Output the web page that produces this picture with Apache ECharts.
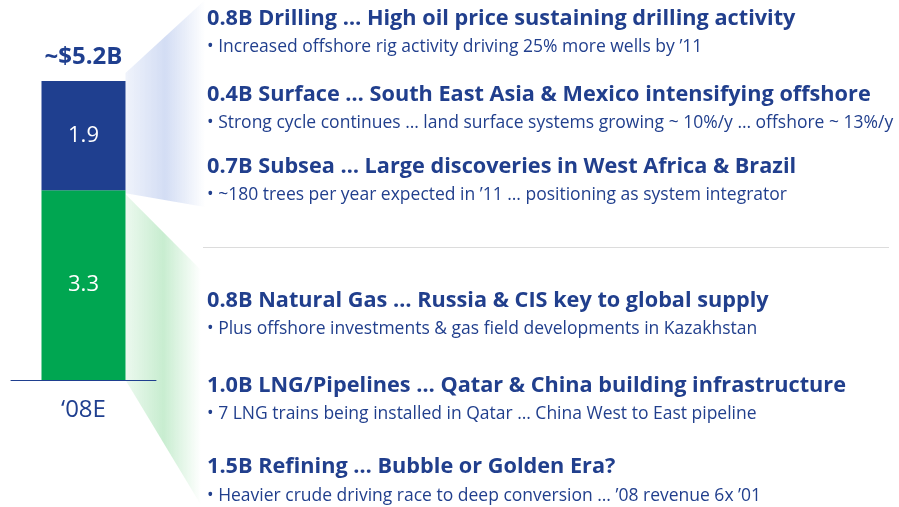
<!DOCTYPE html>
<html>
<head>
<meta charset="utf-8">
<script src="https://cdn.jsdelivr.net/npm/echarts@6/dist/echarts.min.js"></script>
<style>
  html, body { margin: 0; padding: 0; background: #fff; }
  #chart { width: 899px; height: 507px; }
</style>
</head>
<body>
<div id="chart"></div>
<script>
// data
const categories = ['\u201808E']
const downstreamValues = [3.3]
const upstreamValues = [1.9]
const totalLabels = ['~$5.2B']

const upstreamHeads = [
  '0.8B Drilling \u2026 High oil price sustaining drilling activity',
  '0.4B Surface \u2026 South East Asia & Mexico intensifying offshore',
  '0.7B Subsea \u2026 Large discoveries in West Africa & Brazil'
]
const upstreamNotes = [
  '\u2022 Increased offshore rig activity driving 25% more wells by \u201911',
  '\u2022 Strong cycle continues \u2026 land surface systems growing ~ 10%/y \u2026 offshore ~ 13%/y',
  '\u2022 ~180 trees per year expected in \u201911 \u2026 positioning as system integrator'
]
const downstreamHeads = [
  '0.8B Natural Gas \u2026 Russia & CIS key to global supply',
  '1.0B LNG/Pipelines \u2026 Qatar & China building infrastructure',
  '1.5B Refining \u2026 Bubble or Golden Era?'
]
const downstreamNotes = [
  '\u2022 Plus offshore investments & gas field developments in Kazakhstan',
  '\u2022 7 LNG trains being installed in Qatar \u2026 China West to East pipeline',
  '\u2022 Heavier crude driving race to deep conversion \u2026 \u201908 revenue 6x \u201901'
]

const blue = '#1f3f8f'
const green = '#00a651'
const textBlue = '#213f8d'
const font = 'Open Sans'

const chart = echarts.init(document.getElementById('chart'))

const total = downstreamValues[0] + upstreamValues[0]

chart.setOption({
  animation: false,
  grid: { left: 11, width: 145, top: 81, bottom: 127 },
  xAxis: {
    type: 'category',
    data: categories,
    axisLine: { lineStyle: { color: blue, width: 1 } },
    axisTick: { show: false },
    axisLabel: { color: blue, fontSize: 24, margin: 18, fontFamily: font }
  },
  yAxis: { type: 'value', min: 0, max: total, show: false },
  series: [
    {
      type: 'bar', stack: 'a', barWidth: 84, data: downstreamValues,
      itemStyle: { color: green },
      label: { show: true, position: 'inside', color: '#fff', fontSize: 22, fontFamily: font }
    },
    {
      type: 'bar', stack: 'a', barWidth: 84, data: upstreamValues,
      itemStyle: { color: blue },
      label: { show: true, position: 'inside', color: '#fff', fontSize: 22, fontFamily: font }
    }
  ]
})

// wedges hooking the bar segments to the text blocks
const pTop = chart.convertToPixel({ seriesIndex: 1 }, [0, total])
const pMid = chart.convertToPixel({ seriesIndex: 0 }, [0, downstreamValues[0]])
const pBot = chart.convertToPixel({ seriesIndex: 0 }, [0, 0])
const right = pTop[0] + 42

function fade(r, g, b) {
  return {
    type: 'linear', x: 0, y: 0, x2: 1, y2: 0,
    colorStops: [
      { offset: 0, color: `rgba(${r},${g},${b},0.35)` },
      { offset: 0.5, color: `rgba(${r},${g},${b},1)` },
      { offset: 1, color: `rgba(${r},${g},${b},0)` }
    ]
  }
}

const graphics = [
  {
    type: 'polygon', z: -1,
    shape: { points: [[right, pTop[1] - 8], [205, 0], [205, 207], [right, pMid[1] + 3]] },
    style: { fill: fade(211, 221, 244) }
  },
  {
    type: 'polygon', z: -1,
    shape: { points: [[right, pMid[1] + 4], [201, 270], [201, 505], [right, pBot[1]]] },
    style: { fill: fade(200, 237, 208) }
  },
  {
    type: 'line',
    shape: { x1: 203, y1: 247.5, x2: 889, y2: 247.5 },
    style: { stroke: '#dcdcdc', lineWidth: 1 }
  },
  {
    type: 'text', x: pTop[0], y: pTop[1] - 24,
    style: {
      text: totalLabels[0], fill: blue, font: `bold 24px "${font}"`,
      align: 'center', verticalAlign: 'middle'
    }
  }
]

const headY = [19, 95, 167, 301, 386, 467]
const noteY = [47, 123, 195, 329, 414, 496]
const heads = upstreamHeads.concat(downstreamHeads)
const notes = upstreamNotes.concat(downstreamNotes)

heads.forEach((t, i) => {
  graphics.push({
    type: 'text', x: 207, y: headY[i],
    style: { text: t, fill: textBlue, font: `bold 21.7px "${font}"`, verticalAlign: 'middle' }
  })
  graphics.push({
    type: 'text', x: 207, y: noteY[i],
    style: { text: notes[i], fill: textBlue, font: `17.5px "${font}"`, verticalAlign: 'middle' }
  })
})

chart.setOption({ graphic: graphics })
</script>
</body>
</html>
